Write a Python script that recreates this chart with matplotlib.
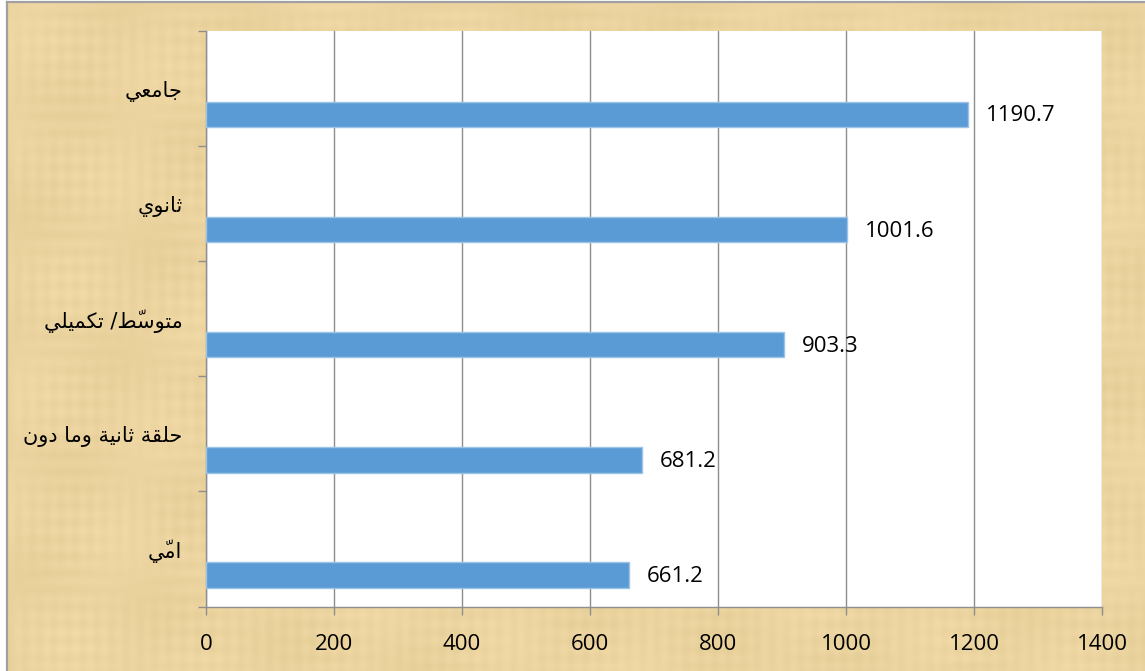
import numpy as np
import matplotlib
matplotlib.use("Agg")
import matplotlib.pyplot as plt
from matplotlib.lines import Line2D

# ---------------- data ----------------
categories = ["امّي", "حلقة ثانية وما دون", "متوسّط/ تكميلي", "ثانوي", "جامعي"]
values = [661.2, 681.2, 903.3, 1001.6, 1190.7]
x_ticks = [0, 200, 400, 600, 800, 1000, 1200, 1400]

# ------------- Arabic shaping (matplotlib does no shaping) -------------
FORMS = {  # isolated, final, initial, medial
    'ا': ('\uFE8D', '\uFE8E', None, None),
    'ت': ('\uFE95', '\uFE96', '\uFE97', '\uFE98'),
    'ث': ('\uFE99', '\uFE9A', '\uFE9B', '\uFE9C'),
    'ج': ('\uFE9D', '\uFE9E', '\uFE9F', '\uFEA0'),
    'ح': ('\uFEA1', '\uFEA2', '\uFEA3', '\uFEA4'),
    'د': ('\uFEA9', '\uFEAA', None, None),
    'س': ('\uFEB1', '\uFEB2', '\uFEB3', '\uFEB4'),
    'ط': ('\uFEC1', '\uFEC2', '\uFEC3', '\uFEC4'),
    'ع': ('\uFEC9', '\uFECA', '\uFECB', '\uFECC'),
    'ق': ('\uFED5', '\uFED6', '\uFED7', '\uFED8'),
    'ك': ('\uFED9', '\uFEDA', '\uFEDB', '\uFEDC'),
    'ل': ('\uFEDD', '\uFEDE', '\uFEDF', '\uFEE0'),
    'م': ('\uFEE1', '\uFEE2', '\uFEE3', '\uFEE4'),
    'ن': ('\uFEE5', '\uFEE6', '\uFEE7', '\uFEE8'),
    'ة': ('\uFE93', '\uFE94', None, None),
    'و': ('\uFEED', '\uFEEE', None, None),
    'ي': ('\uFEF1', '\uFEF2', '\uFEF3', '\uFEF4'),
}
MARKS = {'\u0651'}


def shape(s):
    chars = list(s)
    n = len(chars)
    out = []
    for i, c in enumerate(chars):
        if c in MARKS or c not in FORMS:
            out.append(c)
            continue
        j = i - 1
        while j >= 0 and chars[j] in MARKS:
            j -= 1
        k = i + 1
        while k < n and chars[k] in MARKS:
            k += 1
        prev_j = j >= 0 and chars[j] in FORMS and FORMS[chars[j]][2] is not None
        next_j = FORMS[c][2] is not None and k < n and chars[k] in FORMS
        f = FORMS[c]
        if prev_j and next_j:
            g = f[3]
        elif prev_j:
            g = f[1]
        elif next_j:
            g = f[2]
        else:
            g = f[0]
        out.append(g)
    # visual order: full reversal puts each mark just before (left of) its base,
    # where the zero-advance glyph extends rightwards over the base
    return ''.join(reversed(out))


# ---------------- figure ----------------
W, H = 1145, 671
fig = plt.figure(figsize=(W / 100, H / 100), dpi=100)
fig.patch.set_facecolor('white')

# papyrus-like background (deterministic decorative pattern)
bg = fig.add_axes([0, 0, 1, 1], zorder=-10)
yy, xx = np.mgrid[0:H, 0:W].astype(float)
pat = (0.35 * np.sin(xx / 2.3) * np.sin(yy / 37.0)
       + 0.35 * np.sin(yy / 2.7) * np.sin(xx / 41.0)
       + 0.25 * np.sin(xx / 23.0 + yy / 57.0)
       + 0.25 * np.sin(yy / 19.0 - xx / 71.0))
base = np.array([236, 212, 160], dtype=float)
tex = base[None, None, :] + pat[..., None] * np.array([6, 6, 8])[None, None, :]
tex = np.clip(tex, 0, 255) / 255.0
bg.imshow(tex, extent=(7, W, H, 2), aspect='auto', interpolation='bilinear')
bg.set_xlim(0, W)
bg.set_ylim(H, 0)
bg.axis('off')
bg.add_line(Line2D([6.5, 6.5], [2, H], color='#a0a0a0', lw=1.6))
bg.add_line(Line2D([6.5, W], [2, 2], color='#a0a0a0', lw=1.6))

ax = fig.add_axes([206 / W, 1 - 606.5 / H, (1102 - 206) / W, (606.5 - 31) / H])
ax.set_facecolor('white')

pos = np.arange(len(categories))
bar_offset = -0.226
ax.barh(pos + bar_offset, values, height=0.22, color='#5B9BD5',
        edgecolor='#9DC3E6', linewidth=1.0, zorder=3)

for p, v in zip(pos, values):
    ax.annotate(f"{v:.1f}", xy=(v, p + bar_offset), xytext=(13, -1),
                textcoords='offset points', ha='left', va='center',
                fontsize=16, family=['Open Sans', 'DejaVu Sans'], color='black')

ax.set_xlim(0, 1400)
ax.set_ylim(-0.5, len(categories) - 0.5)
ax.set_xticks(x_ticks)
ax.set_xticklabels([str(t) for t in x_ticks], family=['Open Sans', 'DejaVu Sans'],
                   fontsize=16)
ax.set_yticks(pos)
ax.set_yticklabels([shape(c) for c in categories], family=['DejaVu Sans'],
                   fontsize=15)
ax.set_yticks(np.arange(-0.5, len(categories), 1.0), minor=True)

ax.tick_params(axis='y', which='major', length=0, pad=17)
ax.tick_params(axis='y', which='minor', length=6, color='#8e8e8e', width=1)
ax.tick_params(axis='x', which='major', length=6, color='#8e8e8e', width=1, pad=14)

ax.grid(axis='x', color='#8e8e8e', linewidth=1.0, zorder=0)
ax.set_axisbelow(True)
for s in ['top', 'right']:
    ax.spines[s].set_visible(False)
for s in ['left', 'bottom']:
    ax.spines[s].set_color('#8e8e8e')
    ax.spines[s].set_linewidth(1.0)

fig.savefig('out.png', dpi=100)
